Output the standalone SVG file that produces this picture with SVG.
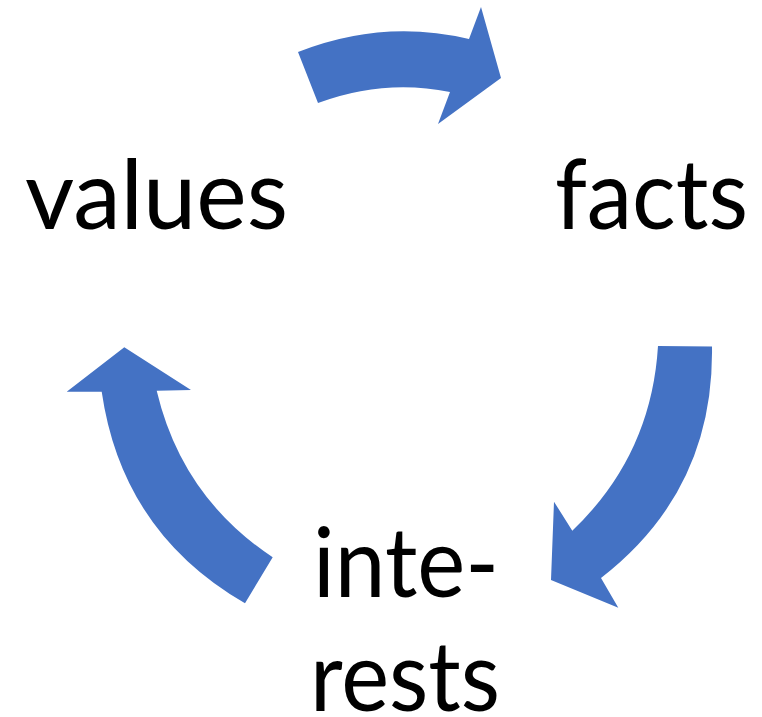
<svg xmlns="http://www.w3.org/2000/svg" width="762" height="717" viewBox="0 0 762 717">
  <style>
    .arrow { fill: #4472C4; stroke: none; }
    .label { font-family: Lato, "Open Sans", "Liberation Sans", sans-serif; font-size: 96px; fill: #000000; }
  </style>
  <rect width="762" height="717" fill="#ffffff"/>

  <!-- curved block arrows forming the cycle -->
  <g id="connectors">
    <!-- values -> facts -->
    <path id="arrow-top" class="arrow"
          d="M298,52 Q383,18.5 469,39 L481,7 L501,78 L438,124 L450,92 Q384,78.5 318,103 Z"/>
    <!-- facts -> interests -->
    <path id="arrow-right" class="arrow"
          d="M658,346 L712,346.5 Q714.2,490.3 601,578 L618.3,607.7 L551,580 L554,501.7 L572.3,530.7 Q651.3,455.4 658,346 Z"/>
    <!-- interests -> values -->
    <path id="arrow-left" class="arrow"
          d="M245,603.3 Q122.1,532.3 101.7,391.7 L66.7,391.7 L124.3,347.3 L191,390 L156.7,390.7 Q181.9,497.1 272.7,557.3 Z"/>
  </g>

  <g id="node-values">
    <text class="label" x="25" y="229" textLength="263" lengthAdjust="spacingAndGlyphs">values</text>
  </g>
  <g id="node-facts">
    <text class="label" x="555" y="229" textLength="193" lengthAdjust="spacingAndGlyphs">facts</text>
  </g>
  <g id="node-interests">
    <text class="label" x="313" y="597" textLength="186" lengthAdjust="spacingAndGlyphs">inte-</text>
    <text class="label" x="310" y="711" textLength="190" lengthAdjust="spacingAndGlyphs">rests</text>
  </g>
</svg>
